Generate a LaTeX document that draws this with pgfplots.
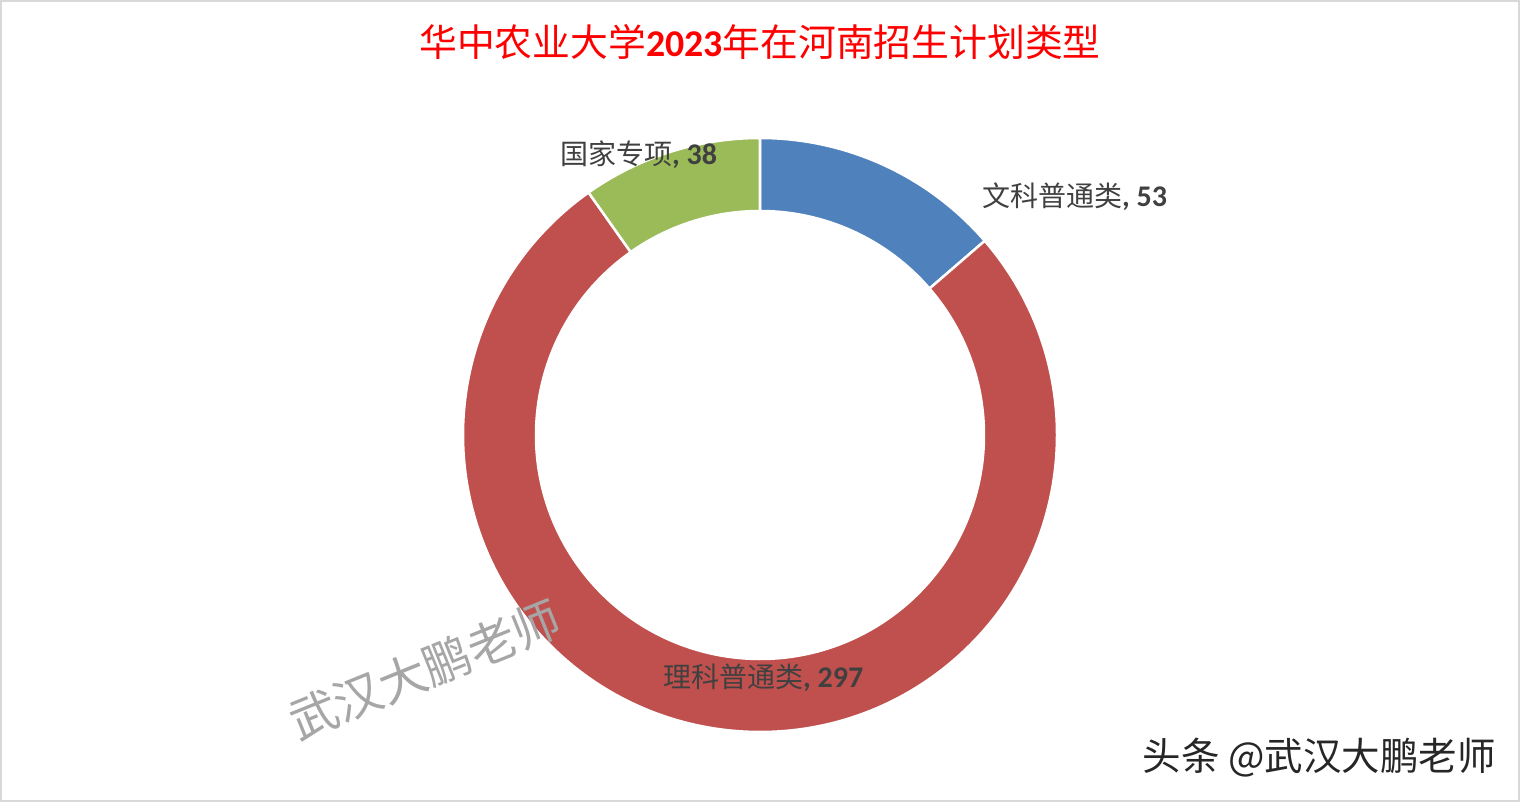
\documentclass[border=0pt]{standalone}
\usepackage{pgfplots}
\pgfplotsset{compat=1.18}
\usepackage{fontspec}
\setmainfont{Noto Sans CJK SC}
\newfontfamily\numfont{Carlito}
\definecolor{cblue}{HTML}{4F81BD}
\definecolor{cred}{HTML}{C0504D}
\definecolor{cgreen}{HTML}{9BBB59}
\definecolor{labgrey}{HTML}{404040}
\definecolor{bordergrey}{HTML}{D9D9D9}
% data
\def\vWen{53}
\def\vLi{297}
\def\vGuo{38}
\pgfmathsetmacro{\total}{\vWen+\vLi+\vGuo}
\pgfmathsetmacro{\aA}{90}
\pgfmathsetmacro{\aB}{\aA-\vWen/\total*360}
\pgfmathsetmacro{\aC}{\aB-\vLi/\total*360}
\pgfmathsetmacro{\aD}{\aC-\vGuo/\total*360}
\def\cx{760}
\def\cy{367}
\def\Ro{297}
\def\Ri{224}
\newcommand{\sector}[3]{%
  \filldraw[fill=#1, draw=white, line width=2.5pt]
    ({\cx+\Ro*cos(#2)},{\cy+\Ro*sin(#2)})
    arc[start angle=#2, end angle=#3, radius=\Ro pt]
    -- ({\cx+\Ri*cos(#3)},{\cy+\Ri*sin(#3)})
    arc[start angle=#3, end angle=#2, radius=\Ri pt] -- cycle;}
\begin{document}
\begin{tikzpicture}
\begin{axis}[hide axis, scale only axis, width=1520pt, height=802pt,
  xmin=0, xmax=1520, ymin=0, ymax=802, clip=false]
\fill[white] (0,0) rectangle (1520,802);
\sector{cblue}{\aA}{\aB}
\sector{cred}{\aB}{\aC}
\sector{cgreen}{\aC}{\aD}
% title
\node[text=red] at (760,760) {\fontsize{37.8}{40}\selectfont 华中农业大学{\numfont\bfseries 2023}年在河南招生计划类型};
% labels
\node[anchor=west, text=labgrey, inner sep=0] at (982,605) {\fontsize{28}{30}\selectfont 文科普通类{\numfont\bfseries\fontsize{30}{30}\selectfont, \vWen}};
\node[anchor=west, text=labgrey, inner sep=0] at (560,647) {\fontsize{28}{30}\selectfont 国家专项{\numfont\bfseries\fontsize{30}{30}\selectfont, \vGuo}};
\node[anchor=west, text=labgrey, inner sep=0] at (663,124) {\fontsize{28}{30}\selectfont 理科普通类{\numfont\bfseries\fontsize{30}{30}\selectfont, \vLi}};
% watermark
\node[rotate=22, text=black!35, inner sep=0] at (425,132) {\fontsize{48}{50}\selectfont 武汉大鹏老师};
\node[anchor=east, text=black!85, inner sep=0] at (1496,44) {\fontsize{38.5}{40}\selectfont 头条 @武汉大鹏老师};
% border
\draw[bordergrey, line width=2pt] (1,1) rectangle (1519,801);
\end{axis}
\end{tikzpicture}
\end{document}
